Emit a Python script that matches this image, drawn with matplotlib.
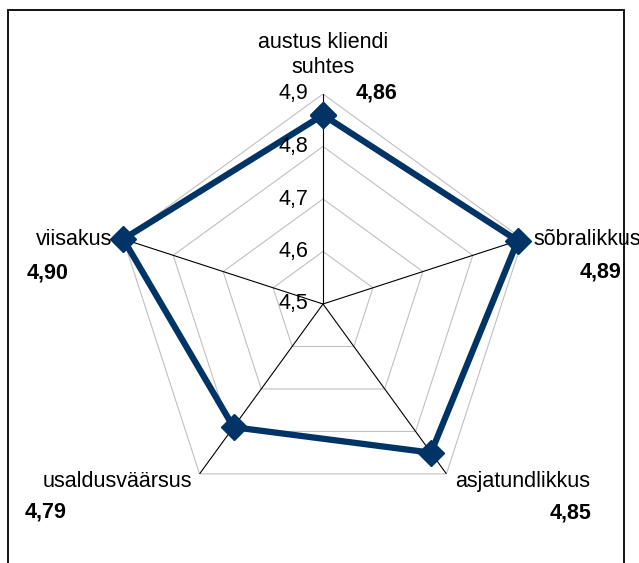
import numpy as np
import matplotlib.pyplot as plt
from matplotlib.patches import Rectangle

plt.rcParams['font.family'] = ['Liberation Sans', 'DejaVu Sans']

categories = ['austus kliendi\nsuhtes', 'sõbralikkus', 'asjatundlikkus', 'usaldusväärsus', 'viisakus']
values = [4.86, 4.89, 4.85, 4.79, 4.90]
value_labels = ['4,86', '4,89', '4,85', '4,79', '4,90']
ticks = [4.5, 4.6, 4.7, 4.8, 4.9]
tick_labels = ['4,5', '4,6', '4,7', '4,8', '4,9']

# pixel offsets of labels from the outer vertex
cat_off = [(0, 16, 'center', 'bottom'), (11, 0, 'left', 'center'), (9, -8, 'left', 'center'),
           (-7, -8, 'right', 'center'), (-11, 0, 'right', 'center')]
val_off = [(54, 1), (78, -33), (124, -39), (-154, -38), (-76, -34)]

fs = 15.5
navy = '#003366'

fig = plt.figure(figsize=(6.39, 5.63), dpi=100)
ax = fig.add_axes([113 / 639, 49 / 563, 420 / 639, 420 / 563], projection='polar')
ax.set_theta_zero_location('N')
ax.set_theta_direction(-1)
ax.set_ylim(4.5, 4.9)
ax.axis('off')

n = len(categories)
theta = np.arange(n) * 2 * np.pi / n
theta_c = np.append(theta, theta[0])

# pentagon gridlines
for t in ticks[1:]:
    ax.plot(theta_c, [t] * (n + 1), color='#c0c0c0', lw=0.8, zorder=1)
# spokes
for th in theta:
    ax.plot([th, th], [4.5, 4.9], color='black', lw=0.8, zorder=2)

vals_c = values + [values[0]]
ax.plot(theta_c, vals_c, color=navy, lw=4.5, marker='D', ms=13, zorder=3, clip_on=False)

for t, lab in zip(ticks, tick_labels):
    ax.annotate(lab, (0, t), xytext=(-15, 0), textcoords='offset pixels',
                ha='right', va='center', fontsize=fs, zorder=5)

for th, cat, (dx, dy, ha, va) in zip(theta, categories, cat_off):
    ax.annotate(cat, (th, 4.9), xytext=(dx, dy), textcoords='offset pixels',
                ha=ha, va=va, fontsize=fs, linespacing=1.25, annotation_clip=False, zorder=5)

for th, lab, (dx, dy) in zip(theta, value_labels, val_off):
    ax.annotate(lab, (th, 4.9), xytext=(dx, dy), textcoords='offset pixels',
                ha='center', va='center', fontsize=fs, fontweight='bold', annotation_clip=False)

fig.patches.append(Rectangle((8 / 639, -0.02), 616 / 639, 553 / 563 + 0.02, transform=fig.transFigure,
                             fill=False, edgecolor='black', lw=1.3, zorder=10))

fig.savefig('out.png', dpi=100)
